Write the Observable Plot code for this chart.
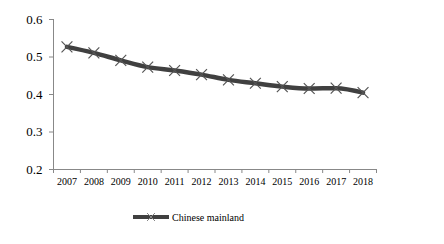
<!DOCTYPE html>
<html><head><meta charset="utf-8">
<script src="https://cdn.jsdelivr.net/npm/d3@7"></script>
<script src="https://cdn.jsdelivr.net/npm/@observablehq/plot@0.6"></script>
<style>
body{margin:0;background:#fff;}
#wrap{width:444px;height:244px;position:relative;font-family:"Liberation Serif",serif;}
#legend{position:absolute;left:133px;top:211px;display:flex;align-items:center;font-size:10px;color:#000;}
</style>
</head><body><div id="wrap"><div id="chart"></div><div id="legend"></div></div>
<script>
const years = [2007,2008,2009,2010,2011,2012,2013,2014,2015,2016,2017,2018];
const values = [0.527,0.511,0.491,0.473,0.464,0.453,0.439,0.430,0.421,0.416,0.417,0.405];
const yTicks = [0.2,0.3,0.4,0.5,0.6];
const seriesName = "Chinese mainland";
const data = years.map((y,i)=>({year:y, value:values[i]}));
const bounds = years.map(y=>y-0.5).concat([years[years.length-1]+0.5]);
const axisColor = "#888";
const lineColor = "#404040";

const chart = Plot.plot({
  width:444, height:190,
  marginLeft:53, marginRight:68, marginTop:19, marginBottom:21,
  style:{fontFamily:"Liberation Serif, serif", background:"#fff", color:"#000"},
  x:{domain:[bounds[0], bounds[bounds.length-1]]},
  y:{domain:[0.2,0.6]},
  marks:[
    Plot.axisY({ticks:yTicks, tickFormat:d=>d.toFixed(1), tickSize:4, tickPadding:7, fontSize:13, stroke:axisColor, label:null}),
    Plot.axisX({ticks:years, tickSize:0, tickPadding:8, tickFormat:d=>String(d), fontSize:10, label:null}),
    Plot.axisX({ticks:bounds, tickSize:4, text:null, stroke:axisColor, label:null}),
    Plot.ruleY([0.2],{stroke:axisColor}),
    Plot.ruleX([bounds[0]],{stroke:axisColor}),
    Plot.line(data,{x:"year", y:"value", stroke:lineColor, strokeWidth:4.5, curve:"monotone-x"}),
    Plot.dot(data,{x:"year", y:"value", symbol:"times", r:5, stroke:"#555", strokeWidth:1.2})
  ]
});
document.getElementById("chart").appendChild(chart);

const leg = document.getElementById("legend");
leg.innerHTML = `<svg width="36" height="12" style="margin-right:3px"><line x1="0" y1="6" x2="36" y2="6" stroke="${lineColor}" stroke-width="4"/><path d="M14,2L22,10M22,2L14,10" stroke="#888" stroke-width="1"/></svg><span>${seriesName}</span>`;
</script></body></html>
